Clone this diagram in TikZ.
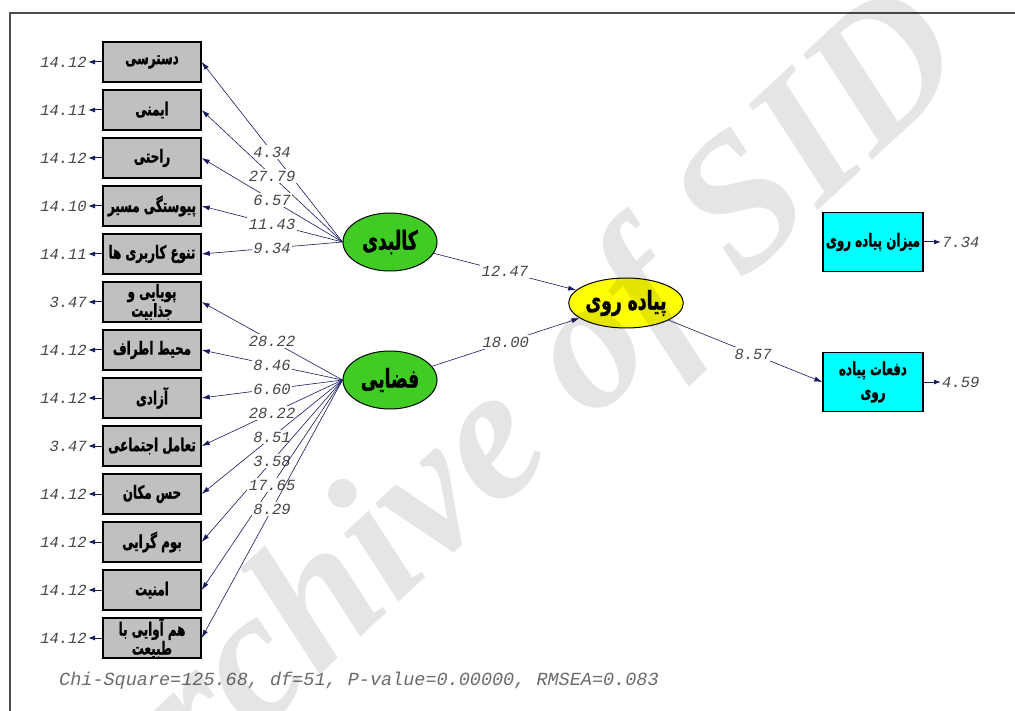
\documentclass[tikz,border=0pt]{standalone}
\usepackage{fontspec}
\setmainfont{DejaVu Sans}
\newfontfamily\fa[Script=Arabic, FakeStretch=0.66, BoldFeatures={FakeBold=1.2}]{DejaVu Sans}
\newfontfamily\mono{Liberation Mono}
\newfontfamily\wm{Liberation Serif}
\TeXXeTstate=1
\usetikzlibrary{arrows.meta,shapes.geometric}
\definecolor{boxgray}{RGB}{192,192,192}
\definecolor{lvgreen}{RGB}{64,204,36}
\definecolor{lvyellow}{RGB}{255,255,0}
\definecolor{obcyan}{RGB}{0,255,255}
\definecolor{navy}{RGB}{25,25,95}
\definecolor{numgray}{RGB}{70,70,70}
\tikzset{
  indbox/.style={draw=black, line width=1.4pt, fill=boxgray, minimum width=98pt, minimum height=40pt, inner sep=0pt, align=center, font=\fa\bfseries\fontsize{18}{18}\selectfont},
  outbox/.style={draw=black, line width=1.4pt, fill=obcyan, minimum width=100pt, minimum height=59pt, inner sep=0pt, align=center, font=\fa\bfseries\fontsize{18}{23}\selectfont},
  latent/.style={ellipse, draw=black, line width=1pt, minimum width=94pt, minimum height=58pt, inner sep=0pt, font=\fa\bfseries\fontsize{26}{27}\selectfont},
  num/.style={font=\mono\itshape\fontsize{15.5}{16}\selectfont, text=numgray, inner sep=1pt},
  lab/.style={num, fill=white, inner sep=1.5pt},
  arr/.style={draw=navy, line width=0.6pt, -{Latex[length=8pt,width=5pt]}},
  earr/.style={draw=navy, line width=1pt, -{Latex[length=7pt,width=5pt]}},
}
\begin{document}
\begin{tikzpicture}[x=1pt,y=-1pt]
\useasboundingbox (0,0) rectangle (1015,711);
\fill[white] (0,0) rectangle (1015,711);
% frame
\draw[line width=1.5pt, gray!60!black] (10,711) -- (10,13) -- (1015,13);

% latent variables
\node[latent, fill=lvgreen] (k) at (390,242) {\beginR کالبدی\endR};
\node[latent, fill=lvgreen] (f) at (390,380) {\beginR فضایی\endR};
\node[latent, fill=lvyellow, minimum width=84pt, minimum height=50pt] (p) at (626,303) {\beginR پیاده روی\endR};

% indicator boxes
\node[indbox] (b1) at (152,62) {\beginR دسترسی\endR};
\node[indbox] (b2) at (152,110) {\beginR ایمنی\endR};
\node[indbox] (b3) at (152,158) {\beginR راحتی\endR};
\node[indbox] (b4) at (152,206) {\beginR پیوستگی مسیر\endR};
\node[indbox] (b5) at (152,254) {\beginR تنوع کاربری ها\endR};
\node[indbox] (b6) at (152,302) {\beginR پویایی و\endR\\\beginR جذابیت\endR};
\node[indbox] (b7) at (152,350) {\beginR محیط اطراف\endR};
\node[indbox] (b8) at (152,398) {\beginR آزادی\endR};
\node[indbox] (b9) at (152,446) {\beginR تعامل اجتماعی\endR};
\node[indbox] (b10) at (152,494) {\beginR حس مکان\endR};
\node[indbox] (b11) at (152,542) {\beginR بوم گرایی\endR};
\node[indbox] (b12) at (152,590) {\beginR امنیت\endR};
\node[indbox] (b13) at (152,638) {\beginR هم آوایی با\endR\\\beginR طبیعت\endR};

\node[outbox] (r1) at (873,242) {\beginR میزان پیاده روی\endR};
\node[outbox] (r2) at (873,382) {\beginR دفعات پیاده\endR\\\beginR روی\endR};

% error terms left
\foreach \i/\v in {1/14.12,2/14.11,3/14.12,4/14.10,5/14.11,6/3.47,7/14.12,8/14.12,9/3.47,10/14.12,11/14.12,12/14.12,13/14.12}{
  \node[num, anchor=east] (e\i) at (88,{62+48*(\i-1)}) {\v};
  \draw[earr] (b\i.west) -- (e\i.east);
}
% error terms right
\node[num, anchor=west] (er1) at (941,242) {7.34};
\node[num, anchor=west] (er2) at (941,382) {4.59};
\draw[earr] (r1.east) -- (er1.west);
\draw[earr] (r2.east) -- (er2.west);

% loadings
\foreach \i/\v in {1/4.34,2/27.79,3/6.57,4/11.43,5/9.34}{
  \draw[arr] (k.west) -- node[lab]{\v} (b\i.east);
}
\foreach \i/\v in {6/28.22,7/8.46,8/6.60,9/28.22,10/8.51,11/3.58,12/17.65,13/8.29}{
  \draw[arr] (f.west) -- node[lab]{\v} (b\i.east);
}
% structural paths
\draw[arr] (k) -- node[lab]{12.47} (p);
\draw[arr] (f) -- node[lab]{18.00} (p);
\draw[arr] (p) -- node[lab, pos=0.55]{8.57} (r2.west);

% fit statistics
\node[num, anchor=west, font=\mono\itshape\fontsize{18.5}{19}\selectfont, text=numgray!80] (fit) at (58,681) {Chi-Square=125.68, df=51, P-value=0.00000, RMSEA=0.083};

% watermark
\node[rotate=43, text=black, opacity=0.1, font=\wm\bfseries\itshape\fontsize{190}{190}\selectfont] (wmk) at (510,435) {Archive of SID};
\end{tikzpicture}
\end{document}
